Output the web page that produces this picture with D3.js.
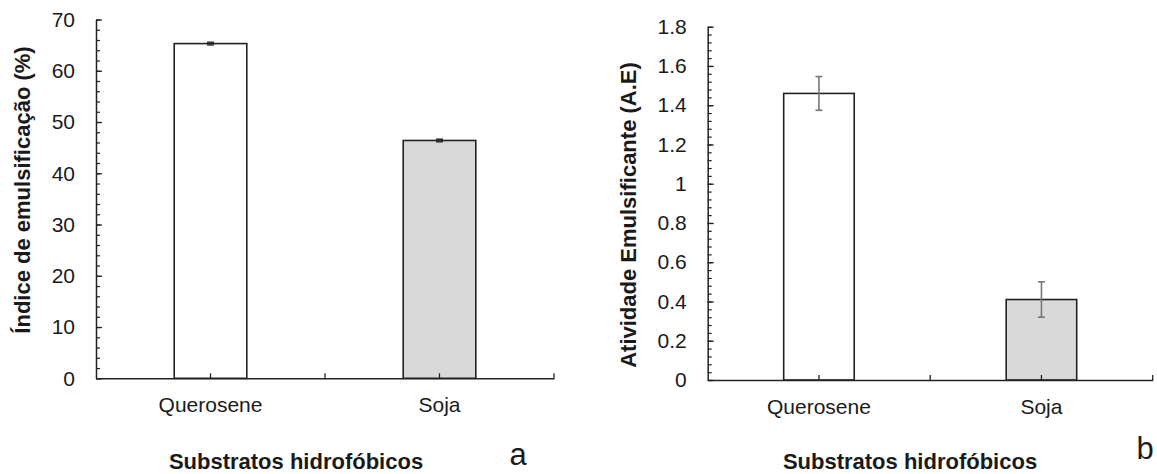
<!DOCTYPE html>
<html>
<head>
<meta charset="utf-8">
<script src="https://cdn.jsdelivr.net/npm/d3@7"></script>
<style>
    body { margin: 0; background: #fff; }
    svg { display: block; font-family: "Liberation Sans", Arial, sans-serif; }
</style>
</head>
<body>
<div id="chart"></div>
<script>
// Data
const categories = ["Querosene", "Soja"];
const barFills = ["#ffffff", "#d9d9d9"];

// panel a
const emulsIndex = [65.3, 46.4];
const emulsErr = [0.25, 0.25];
const emulsTicks = [0, 10, 20, 30, 40, 50, 60, 70];
const emulsTickLabels = ["0", "10", "20", "30", "40", "50", "60", "70"];

// panel b
const activity = [1.46, 0.41];
const activityErr = [0.086, 0.09];
const activityTicks = [0, 0.2, 0.4, 0.6, 0.8, 1, 1.2, 1.4, 1.6, 1.8];
const activityTickLabels = ["0", "0.2", "0.4", "0.6", "0.8", "1", "1.2", "1.4", "1.6", "1.8"];

const W = 1157, H = 474;
const svg = d3.select("#chart").append("svg")
    .attr("width", W)
    .attr("height", H);

svg.append("rect").attr("width", W).attr("height", H).attr("fill", "#fff");

function drawPanel(opts) {
    const g = svg.append("g");

    const x = d3.scaleBand()
        .domain(categories)
        .range([opts.left, opts.right])
        .padding(0);

    const y = d3.scaleLinear()
        .domain([0, opts.max])
        .range([opts.bottom, opts.top]);

    // minor ticks
    const minor = d3.range(0, opts.max + opts.minorStep / 2, opts.minorStep);
    g.append("g")
        .attr("transform", `translate(${opts.left},0)`)
        .call(d3.axisLeft(y).tickValues(minor).tickSize(-4).tickFormat("").tickSizeOuter(0))
        .call(a => a.select(".domain").remove())
        .selectAll("line").attr("stroke", "#222").attr("stroke-width", 1.2);

    // major ticks
    const yAxis = g.append("g")
        .attr("transform", `translate(${opts.left},0)`)
        .call(d3.axisLeft(y)
            .tickValues(opts.ticks)
            .tickFormat((d, i) => opts.tickLabels[i])
            .tickSize(-6)
            .tickSizeOuter(0)
            .tickPadding(21));
    yAxis.select(".domain").attr("stroke", "#222").attr("stroke-width", 1.5);
    yAxis.selectAll("line").attr("stroke", "#222").attr("stroke-width", 1.3);
    yAxis.selectAll("text")
        .attr("font-size", 21)
        .attr("fill", "#1a1a1a")
        .attr("font-family", "Liberation Sans, Arial, sans-serif");

    // bars
    const bw = x.bandwidth() * 0.317;
    g.selectAll(".bar")
        .data(opts.values)
        .enter()
        .append("rect")
        .attr("x", (d, i) => x(categories[i]) + x.bandwidth() / 2 - bw / 2)
        .attr("y", d => y(d))
        .attr("width", bw)
        .attr("height", d => y(0) - y(d))
        .attr("fill", (d, i) => barFills[i])
        .attr("stroke", "#222")
        .attr("stroke-width", 1.6);

    // error bars
    const cap = 3.5;
    opts.values.forEach((v, i) => {
        const cx = x(categories[i]) + x.bandwidth() / 2;
        const e = opts.errors[i];
        const eg = g.append("g")
            .attr("stroke", opts.errColor)
            .attr("stroke-width", 1.6);
        eg.append("line").attr("x1", cx).attr("x2", cx).attr("y1", y(v - e)).attr("y2", y(v + e));
        eg.append("line").attr("x1", cx - cap).attr("x2", cx + cap).attr("y1", y(v + e)).attr("y2", y(v + e));
        eg.append("line").attr("x1", cx - cap).attr("x2", cx + cap).attr("y1", y(v - e)).attr("y2", y(v - e));
    });

    // x axis
    const xAxis = g.append("g")
        .attr("transform", `translate(0,${opts.bottom})`)
        .call(d3.axisBottom(x).tickSize(-5).tickSizeOuter(0).tickPadding(19));
    xAxis.select(".domain").attr("stroke", "#222").attr("stroke-width", 1.5);
    xAxis.selectAll("line").attr("stroke", "#222").attr("stroke-width", 1.3);
    xAxis.selectAll("text")
        .attr("font-size", 21)
        .attr("fill", "#1a1a1a")
        .attr("font-family", "Liberation Sans, Arial, sans-serif");

    // boundary ticks
    xAxis.selectAll(".edge")
        .data(categories)
        .enter()
        .append("line")
        .attr("x1", d => x(d) + x.bandwidth())
        .attr("x2", d => x(d) + x.bandwidth())
        .attr("y1", 0)
        .attr("y2", -5)
        .attr("stroke", "#222")
        .attr("stroke-width", 1.3);

    // titles
    g.append("text")
        .attr("transform", `translate(${opts.yLabelX},${opts.yLabelY}) rotate(-90)`)
        .attr("text-anchor", "middle")
        .attr("font-size", 22)
        .attr("font-weight", "bold")
        .attr("fill", "#1a1a1a")
        .text(opts.yLabel);

    g.append("text")
        .attr("x", opts.xLabelX)
        .attr("y", 469)
        .attr("text-anchor", "middle")
        .attr("font-size", 22)
        .attr("font-weight", "bold")
        .attr("fill", "#1a1a1a")
        .text("Substratos hidrofóbicos");

    g.append("text")
        .attr("x", opts.letterX)
        .attr("y", opts.letterY)
        .attr("text-anchor", "middle")
        .attr("font-size", 31)
        .attr("fill", "#1a1a1a")
        .text(opts.letter);
}

drawPanel({
    left: 96, right: 554, top: 19.5, bottom: 378.3,
    max: 70, minorStep: 2,
    ticks: emulsTicks, tickLabels: emulsTickLabels,
    values: emulsIndex, errors: emulsErr, errColor: "#333",
    yLabel: "Índice de emulsificação (%)", yLabelX: 30, yLabelY: 190,
    xLabelX: 296, letter: "a", letterX: 518, letterY: 465
});

drawPanel({
    left: 707.7, right: 1152.7, top: 26.7, bottom: 380,
    max: 1.8, minorStep: 0.04,
    ticks: activityTicks, tickLabels: activityTickLabels,
    values: activity, errors: activityErr, errColor: "#777",
    yLabel: "Atividade Emulsificante (A.E)", yLabelX: 636, yLabelY: 215,
    xLabelX: 910, letter: "b", letterX: 1145, letterY: 459
});
</script>
</body>
</html>
